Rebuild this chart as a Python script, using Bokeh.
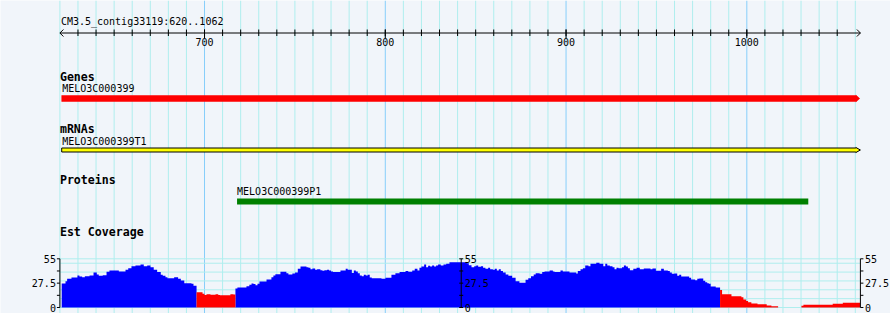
from bokeh.plotting import figure
from bokeh.models import Range1d
from bokeh.core.properties import value
from bokeh.embed import file_html
from bokeh.resources import INLINE

# ---------------- data ----------------
REF_NAME = "CM3.5_contig33119"
VIEW_START, VIEW_END = 620, 1062
RULER_TICK_LABELS = [700, 800, 900, 1000]

GENE_NAME, GENE_START, GENE_END = "MELO3C000399", 621, 1062
MRNA_NAME, MRNA_START, MRNA_END = "MELO3C000399T1", 621, 1062
PROT_NAME, PROT_START, PROT_END = "MELO3C000399P1", 718, 1034

TRACK_TITLES = ["Genes", "mRNAs", "Proteins", "Est Coverage"]
COV_MAX = 55
COV_TICK_LABELS = ["0", "27.5", "55"]
COV_TICK_VALUES = [0, 27.5, 55]
COV_LOW = 21  # bins below this drawn red

cov_start = [621, 623.1, 624, 626.4, 629.7, 630.8, 632.3, 633.8, 636.4, 638.6,
             640.4, 641.5, 643.7, 645.8, 647.4, 652.6, 656.3, 657.8, 659.6, 661.8,
             664.6, 666.4, 668.3, 670.1, 671.9, 673.8, 675.8, 676.9, 678.4, 679.5,
             683.2, 685.4, 686.9, 688.8, 692.8, 693.9, 695.6, 698.9, 700, 701.1,
             703.3, 706.1, 707.6, 708.5, 714.3, 716, 717.1, 718.2, 723.2, 724.8,
             726, 727.1, 728.2, 729.3, 730.4, 734.3, 737, 738.1, 739.2, 742,
             745.3, 746.4, 748.6, 750.1, 751.6, 753.1, 756.4, 757.5, 758.6, 759.7,
             761.2, 762.3, 764.1, 765.2, 766.3, 767.8, 768.9, 770, 771.1, 775.2,
             778.1, 779.2, 781.5, 782.6, 783.7, 784.8, 785.9, 787, 788.1, 789.2,
             790.3, 791.4, 792.5, 797.9, 800.1, 803.4, 805.6, 807.9, 811.2, 812.7,
             814.9, 816.3, 817.8, 818.9, 820, 821.5, 822.6, 823.7, 824.8, 825.9,
             827, 828.1, 829.2, 830.7, 832.2, 833.7, 835.5, 845.1, 846.2, 847.7,
             849.2, 850.3, 851.4, 852.9, 854.1, 855.4, 856.9, 858, 859.5, 860.6,
             861.7, 862.8, 863.9, 865.1, 866.6, 868.1, 870.2, 872.1, 874.2, 877.6,
             879.1, 880.6, 882.1, 883.2, 885.4, 886.8, 888.1, 890.9, 892.7, 893.6,
             896.9, 898.2, 901.9, 905.6, 906.5, 908, 909.3, 910.6, 912.4, 913.5,
             916.7, 918.5, 920.6, 921.7, 922.8, 924.2, 925.7, 926.8, 927.9, 929,
             930.9, 932, 933.1, 934.2, 935.3, 937.2, 939, 940.8, 943, 946.7,
             947.8, 949.7, 952.6, 954.1, 956.3, 957.4, 958.5, 960, 961.5, 962.6,
             963.7, 968.1, 969.2, 971.4, 972.6, 973.7, 975.9, 977, 978.1, 979,
             980, 982.8, 985.2, 986.3, 991.5, 997, 998.1, 999.6, 1000.7, 1002.5,
             1005.9, 1011, 1013.6, 1017.3, 1030.2, 1031.3, 1047.5, 1053.1]
cov_value = [27.1, 29.7, 32.4, 33.9, 36.1, 35.0, 34.3, 35.4, 36.1, 39.5,
             37.2, 35.8, 36.5, 40.3, 41.8, 40.6, 42.5, 44.4, 46.7, 47.4,
             48.6, 46.7, 47.4, 45.5, 42.5, 40.0, 37.0, 35.8, 34.3, 33.1,
             34.3, 32.4, 30.5, 27.5, 26.7, 24.5, 17.3, 15.4, 14.0, 15.0,
             14.3, 15.0, 14.0, 13.9, 15.1, 14.7, 21.5, 22.6, 24.1, 25.6,
             27.1, 26.4, 25.2, 26.7, 29.3, 31.6, 34.3, 36.1, 37.6, 40.3,
             38.8, 37.3, 38.4, 39.5, 43.7, 46.3, 45.5, 44.8, 43.3, 44.1,
             42.5, 43.3, 42.2, 41.4, 42.2, 42.5, 41.8, 40.6, 40.0, 41.8,
             43.7, 42.5, 39.1, 41.8, 40.6, 38.8, 36.1, 35.4, 36.9, 36.1,
             36.9, 33.9, 33.1, 32.4, 33.5, 36.9, 38.8, 40.0, 41.1, 40.3,
             41.8, 43.7, 41.8, 44.8, 46.3, 48.6, 45.5, 47.1, 46.3, 47.4,
             46.3, 47.4, 48.6, 47.4, 48.6, 49.3, 51.2, 50.1, 47.8, 45.5,
             46.7, 47.4, 45.9, 46.7, 44.8, 43.7, 44.8, 43.3, 42.5, 43.7,
             41.8, 43.3, 41.1, 39.5, 37.3, 35.8, 33.5, 29.7, 27.9, 31.2,
             33.1, 35.4, 37.3, 38.8, 38.0, 40.0, 40.6, 41.8, 40.6, 40.0,
             41.8, 40.6, 39.5, 38.4, 41.1, 43.3, 44.4, 47.4, 46.7, 49.3,
             50.5, 49.3, 46.7, 49.3, 47.4, 46.7, 45.5, 43.3, 44.8, 44.4,
             45.5, 47.4, 46.3, 44.4, 42.2, 43.7, 44.8, 43.3, 44.1, 43.3,
             44.1, 41.4, 43.7, 41.8, 41.1, 39.5, 38.0, 38.4, 35.8, 36.9,
             35.0, 33.5, 31.6, 30.9, 32.4, 32.8, 30.1, 28.6, 27.5, 26.7,
             23.7, 22.6, 19.9, 15.0, 12.8, 11.7, 9.0, 7.2, 6.0, 4.5,
             3.8, 2.3, 1.5, 0.0, 2.0, 3.0, 4.1, 5.3]
COV_END = 1062.7

# ---------------- layout / style ----------------
W, H = 890, 313
PX_PER_BP = 1.8077
X0_PX = 59.4
BG = "#F1F5FA"
GRID_MINOR = "#AFEEEE"
GRID_MAJOR = "#87CEFA"
MONO = value("DejaVu Sans Mono")


def px(d):
    return d / PX_PER_BP


x_lo = VIEW_START - X0_PX / PX_PER_BP
x_hi = x_lo + W / PX_PER_BP

# coverage range: value 0 -> 307 px from top, 55 -> 258.3 px from top
COV_BASE, COV_TOP = 307.0, 258.3
upv = (COV_BASE - COV_TOP) / COV_MAX
cov_lo = -(H - COV_BASE) / upv
cov_hi = cov_lo + H / upv

p = figure(width=W, height=H, x_range=Range1d(x_lo, x_hi), y_range=Range1d(H, 0),
           x_axis_type=None, y_axis_type=None, toolbar_location=None,
           output_backend="svg", min_border=0, title=None)
p.min_border_left = p.min_border_right = p.min_border_top = p.min_border_bottom = 0
p.outline_line_color = None
p.background_fill_color = BG
p.border_fill_color = BG
p.extra_y_ranges = {"cov": Range1d(cov_lo, cov_hi)}

# vertical grid
gx = list(range(VIEW_START, VIEW_END, 10))
gcol = [GRID_MAJOR if g % 100 == 0 else GRID_MINOR for g in gx]
p.segment(x0=gx, x1=gx, y0=[0] * len(gx), y1=[H] * len(gx), line_color=gcol, line_width=1)

# horizontal coverage grid
hv = [0, 10, 20, 30, 40, 50, COV_MAX]
p.segment(x0=[VIEW_START] * len(hv), x1=[VIEW_END + px(1.5)] * len(hv), y0=hv, y1=hv,
          line_color=GRID_MINOR, line_width=1, y_range_name="cov")

# ruler
RY = 32.5
p.segment(x0=[VIEW_START], x1=[VIEW_END + px(1.5)], y0=[RY], y1=[RY], line_color="black")
for xa, d in ((VIEW_START, px(3.5)), (VIEW_END + px(1.5), -px(3.5))):
    p.segment(x0=[xa, xa], x1=[xa + d, xa + d], y0=[RY, RY], y1=[RY - 3.5, RY + 3.5],
              line_color="black")
mt = [t for t in range(VIEW_START + 10, VIEW_END - 10, 10)]
p.segment(x0=mt, x1=mt, y0=[RY - 3.5] * len(mt), y1=[RY + 3] * len(mt), line_color="black")
p.segment(x0=RULER_TICK_LABELS, x1=RULER_TICK_LABELS, y0=[RY - 3.5] * 4, y1=[RY + 5] * 4,
          line_color="black")

TXT = dict(text_font=MONO, text_baseline="middle", text_color="black")
p.text(x=RULER_TICK_LABELS, y=[41.8] * 4, text=[str(t) for t in RULER_TICK_LABELS],
       text_font_size="10px", text_align="center", **TXT)
p.text(x=[VIEW_START + px(1)], y=[21], text=[f"{REF_NAME}:{VIEW_START}..{VIEW_END}"],
       text_font_size="10px", text_align="left", **TXT)

# track titles
p.text(x=[VIEW_START] * 4, y=[76, 128, 179.2, 231], text=TRACK_TITLES,
       text_font_size="11.6px", text_font_style="bold", text_align="left", **TXT)

# feature labels
p.text(x=[GENE_START + px(0.5), MRNA_START + px(0.5), PROT_START],
       y=[88.2, 140.5, 190.5], text=[GENE_NAME, MRNA_NAME, PROT_NAME],
       text_font_size="10px", text_align="left", **TXT)


def arrow_bar(start, end, top, bottom, tip):
    ab = end - px(3)
    mid = (top + bottom) / 2
    return ([start, ab, ab, end + px(tip), ab, ab, start],
            [top, top, top - 0.5, mid, bottom + 0.5, bottom, bottom])


gxs, gys = arrow_bar(GENE_START, GENE_END, 95, 101, 0.8)
p.patch(gxs, gys, fill_color="#FF0000", line_color="#FF0000", line_width=0.5)
mxs, mys = arrow_bar(MRNA_START, MRNA_END, 147.5, 151.5, 1.5)
p.patch(mxs, mys, fill_color="#FFFF00", line_color="black", line_width=1)
p.quad(left=[PROT_START], right=[PROT_END], top=[198], bottom=[204],
       fill_color="#008000", line_color=None)

# coverage as step areas (one per colour)
xs = cov_start + [COV_END]
blue = [v if v >= COV_LOW else 0 for v in cov_value]
red = [v if v < COV_LOW else 0 for v in cov_value]
blue.append(blue[-1])
red.append(red[-1])
zeros = [0] * len(xs)
p.varea_step(x=xs, y1=zeros, y2=blue, step_mode="after", fill_color="#0000FF",
             y_range_name="cov")
p.varea_step(x=xs, y1=zeros, y2=red, step_mode="after", fill_color="#FF0000",
             y_range_name="cov")

# coverage axes
ticks = [0, COV_MAX / 4, COV_MAX / 2, 3 * COV_MAX / 4, COV_MAX]
axes = [(VIEW_START, -3, 0, "right", -px(4)),
        (842, -2, 2, "left", px(3.5)),
        (VIEW_END + px(1.5), 0, 3, "left", px(4.5))]
for ax, a, b, align, off in axes:
    p.segment(x0=[ax], x1=[ax], y0=[0], y1=[COV_MAX], line_color="black", y_range_name="cov")
    p.segment(x0=[ax + px(a)] * 5, x1=[ax + px(b)] * 5, y0=ticks, y1=ticks,
              line_color="black", y_range_name="cov")
    p.text(x=[ax + off] * 3, y=COV_TICK_VALUES, text=COV_TICK_LABELS,
           text_font_size="10px", text_align=align, y_range_name="cov", **TXT)

open("out.html", "w").write(file_html(p, INLINE))
